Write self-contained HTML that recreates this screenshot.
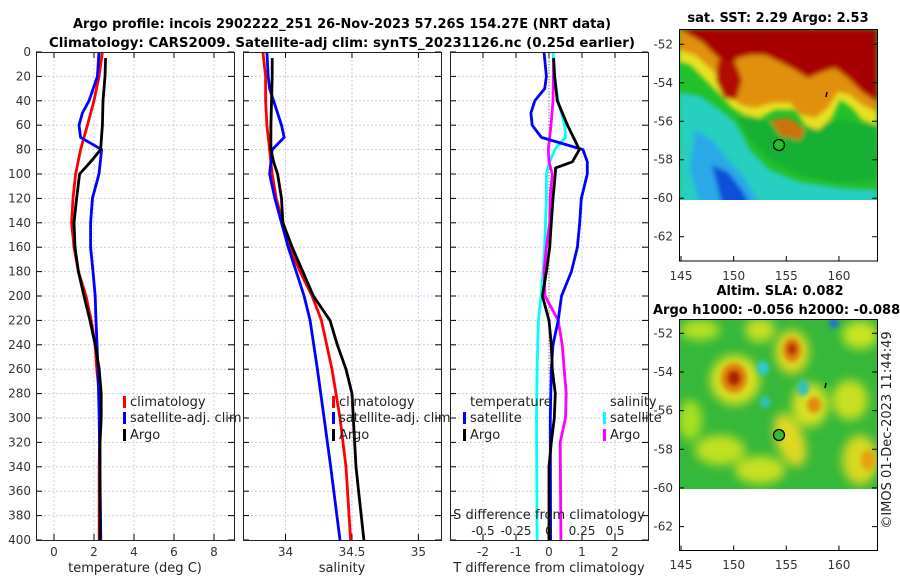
<!DOCTYPE html>
<html><head><meta charset="utf-8"><style>
html,body{margin:0;padding:0;background:#fff;}
svg{display:block;font-family:"DejaVu Sans","Liberation Sans",sans-serif;}
</style></head><body>
<svg id="fig" width="900" height="580" viewBox="0 0 900 580" xmlns="http://www.w3.org/2000/svg">
<defs>
<clipPath id="m1c"><rect x="679" y="29" width="198" height="171"/></clipPath>
<clipPath id="m2c"><rect x="679" y="319" width="198" height="170"/></clipPath>
<filter id="bl" x="-10%" y="-10%" width="120%" height="120%"><feGaussianBlur stdDeviation="2.5"/></filter>
<filter id="bl2" x="-30%" y="-30%" width="160%" height="160%"><feGaussianBlur stdDeviation="5"/></filter>
</defs>
<g id="titles">
<text x="342" y="28" text-anchor="middle" font-size="13" font-weight="bold" textLength="538" lengthAdjust="spacingAndGlyphs">Argo profile: incois 2902222_251 26-Nov-2023 57.26S 154.27E (NRT data)</text>
<text x="342" y="47" text-anchor="middle" font-size="13" font-weight="bold" textLength="586" lengthAdjust="spacingAndGlyphs">Climatology: CARS2009. Satellite-adj clim: synTS_20231126.nc (0.25d earlier)</text>
</g>
<g id="panels"></g>
<g id="maps">
<text x="778" y="22" text-anchor="middle" font-size="13" font-weight="bold">sat. SST: 2.29 Argo: 2.53</text>
<g clip-path="url(#m1c)">
<rect x="679" y="29" width="198" height="171" fill="#22c02a"/>
<g filter="url(#bl)">
<polygon fill="#25cfc0" points="679,92 700,96 718,108 735,122 750,150 770,170 800,182 840,188 877,190 877,205 679,205"/>
<polygon fill="#2aa8e8" points="695,130 712,140 728,160 745,178 760,205 700,205 690,170"/>
<polygon fill="#1050d8" points="712,165 728,172 742,190 750,205 722,205"/>
<polygon fill="#18b030" points="735,115 760,118 785,128 810,125 840,120 877,125 877,180 840,183 800,175 770,160 750,140"/>
<polygon fill="#e8e020" points="679,29 877,29 877,125 862,120 852,108 840,100 832,118 818,130 805,125 795,110 775,110 760,118 745,115 732,108 720,95 705,80 690,65 679,62"/>
<polygon fill="#e09010" points="679,29 877,29 877,112 862,105 850,95 838,92 828,108 815,118 800,115 790,103 772,103 755,108 740,105 728,90 712,70 695,55 679,50"/>
<polygon fill="#a80000" points="679,29 877,29 877,102 862,92 848,78 835,68 822,72 808,78 795,70 780,62 765,55 750,55 738,58 728,66 716,56 702,42 688,34"/>
<polygon fill="#b01000" points="718,60 735,62 742,80 736,100 724,98 716,80"/>
<polygon fill="#d07010" points="770,120 790,118 805,130 800,140 780,135"/>
</g>
</g>
<ellipse cx="779" cy="145" rx="5.5" ry="5.5" fill="#22c02a" stroke="#000" stroke-width="1.3"/>
<line x1="827" y1="92" x2="826" y2="97" stroke="#000" stroke-width="1.5"/>
<rect x="679.5" y="29.5" width="198" height="231.5" fill="none" stroke="#000" stroke-width="1"/>
<g id="m1ticks" font-size="12" fill="#333"></g>
<text x="780" y="295" text-anchor="middle" font-size="13" font-weight="bold">Altim. SLA: 0.082</text>
<text x="653" y="314" font-size="13" font-weight="bold">Argo h1000: -0.056 h2000: -0.088</text>
<g clip-path="url(#m2c)">
<rect x="679" y="319" width="198" height="170" fill="#36b83a"/>
<g filter="url(#bl2)">
<ellipse cx="700" cy="330" rx="20" ry="10" fill="#b8e020"/>
<ellipse cx="760" cy="330" rx="15" ry="12" fill="#c8e020"/>
<ellipse cx="860" cy="335" rx="18" ry="14" fill="#c8e420"/>
<ellipse cx="735" cy="380" rx="25" ry="25" fill="#d8e020"/>
<ellipse cx="792" cy="352" rx="17" ry="22" fill="#e0d820"/>
<ellipse cx="810" cy="405" rx="18" ry="22" fill="#d8e020"/>
<ellipse cx="790" cy="440" rx="14" ry="28" fill="#e0d820" transform="rotate(-20 790 440)"/>
<ellipse cx="720" cy="450" rx="25" ry="15" fill="#c0e020"/>
<ellipse cx="760" cy="470" rx="25" ry="14" fill="#c8e020"/>
<ellipse cx="860" cy="460" rx="18" ry="25" fill="#d8d820"/>
<ellipse cx="850" cy="400" rx="18" ry="20" fill="#c8e020"/>
<ellipse cx="690" cy="420" rx="12" ry="20" fill="#a8e020"/>
</g>
<g filter="url(#bl)">
<ellipse cx="734" cy="378" rx="13" ry="15" fill="#e08010"/>
<ellipse cx="734" cy="378" rx="7" ry="8" fill="#a82000"/>
<ellipse cx="792" cy="350" rx="9" ry="12" fill="#e08010"/>
<ellipse cx="792" cy="349" rx="5" ry="6" fill="#b03000"/>
<ellipse cx="814" cy="405" rx="7" ry="8" fill="#e08a10"/>
<ellipse cx="868" cy="460" rx="7" ry="10" fill="#e8a010"/>
<ellipse cx="763" cy="368" rx="6" ry="7" fill="#30c8d0"/>
<ellipse cx="834" cy="323" rx="5" ry="5" fill="#2070e0"/>
<ellipse cx="765" cy="402" rx="5" ry="6" fill="#30c0c0"/>
<ellipse cx="803" cy="388" rx="6" ry="8" fill="#30c0c0"/>
</g>
</g>
<ellipse cx="779" cy="435" rx="5.5" ry="5.5" fill="#36b83a" stroke="#000" stroke-width="1.3"/>
<line x1="826" y1="383" x2="825" y2="388" stroke="#000" stroke-width="1.5"/>
<rect x="679.5" y="319.5" width="198" height="231" fill="none" stroke="#000" stroke-width="1"/>
<g id="m2ticks" font-size="12" fill="#333"></g>
<text transform="translate(891,430) rotate(-90)" text-anchor="middle" font-size="13" fill="#222">©IMOS 01-Dec-2023 11:44:49</text>
</g>
</svg>
<script>
const tClimDepth=[0,20,40,60,80,100,120,140,160,180,200,220,240,260,280,300,340,400];
const tClimVal=[2.42,2.25,2.0,1.67,1.33,1.08,0.95,0.88,1.0,1.22,1.6,1.86,2.06,2.14,2.26,2.3,2.26,2.26];
const tArgoDepth=[5,20,40,60,80,90,100,120,140,160,180,200,220,240,260,280,300,320,400];
const tArgoVal=[2.58,2.55,2.45,2.42,2.33,1.83,1.28,1.13,1.0,1.05,1.22,1.5,1.8,2.06,2.26,2.36,2.36,2.3,2.3];
const tSatDepth=[0,20,40,50,60,70,80,100,120,140,160,180,200,220,260,300,400];
const tSatVal=[2.25,2.17,1.75,1.42,1.25,1.33,2.38,2.25,1.92,1.83,1.83,1.95,2.06,2.1,2.2,2.26,2.34];
const sClimDepth=[0,20,40,60,80,100,120,140,160,180,200,220,260,280,300,340,400];
const sClimVal=[33.83,33.85,33.85,33.86,33.88,33.9,33.93,33.98,34.03,34.11,34.2,34.27,34.35,34.38,34.41,34.455,34.49];
const sArgoDepth=[5,20,60,80,90,100,120,140,160,180,200,220,240,260,280,300,340,360,400];
const sArgoVal=[33.9,33.9,33.89,33.89,33.91,33.94,33.97,33.98,34.05,34.13,34.21,34.335,34.39,34.455,34.5,34.51,34.53,34.55,34.59];
const sSatDepth=[0,20,30,40,60,70,80,100,120,140,160,180,200,220,260,300,340,400];
const sSatVal=[33.86,33.87,33.88,33.91,33.97,33.99,33.9,33.88,33.92,33.97,34.02,34.08,34.14,34.185,34.24,34.29,34.34,34.41];
const dTSatDepth=[0,20,30,40,50,60,70,80,90,100,120,140,160,180,200,220,240,260,300,400];
const dTSatVal=[-0.15,-0.08,-0.13,-0.43,-0.55,-0.51,-0.23,1.03,1.16,1.16,0.98,0.93,0.86,0.68,0.38,0.28,0.12,0.07,0.04,0.05];
const dTArgoDepth=[5,20,40,60,80,90,95,100,120,140,160,180,200,220,240,260,280,300,320,340,400];
const dTArgoVal=[0.14,0.17,0.25,0.56,0.92,0.71,0.2,0.19,0.12,0.07,0.02,-0.08,-0.2,0,0.07,0.1,0.19,0.16,0.07,0,0];
const dSSatDepth=[0,20,40,60,70,80,90,100,120,160,180,200,220,260,300,400];
const dSSatVal=[0.03,0.043,0.068,0.12,0.125,0.043,0.005,-0.02,-0.02,-0.033,-0.045,-0.06,-0.08,-0.09,-0.095,-0.09];
const dSArgoDepth=[5,40,60,80,90,100,120,140,160,180,200,220,240,260,280,300,320,400];
const dSArgoVal=[0.035,0.03,0.015,-0.005,0,0.025,0.008,0.005,-0.02,-0.038,-0.03,0.07,0.1,0.115,0.13,0.125,0.085,0.09];
const depthTicks=[0,20,40,60,80,100,120,140,160,180,200,220,240,260,280,300,320,340,360,380,400];
const tTicks=[0,2,4,6,8];
const sTicks=[34,34.5,35];
const dTTicks=[-2,-1,0,1,2];
const dSTicks=[-0.5,-0.25,0,0.25,0.5];
const dSTickLabels=["-0.5","-0.25","0","0.25","0.5"];
const latTicks=[-52,-54,-56,-58,-60,-62];
const lonTicks=[145,150,155,160];

const NS="http://www.w3.org/2000/svg";
const fig=document.getElementById('panels');
function el(tag,attrs,parent){const e=document.createElementNS(NS,tag);for(const k in attrs)e.setAttribute(k,attrs[k]);(parent||fig).appendChild(e);return e;}
const Y0=52,Y1=540,DMAX=400;
function yD(d){return Y0+d/DMAX*(Y1-Y0);}
function mkX(x0,x1,v0,v1){return v=>x0+(v-v0)/(v1-v0)*(x1-x0);}

const panels=[
 {x0:36,x1:234,v0:-0.9,v1:9.0,ticks:tTicks,labels:tTicks.map(String),title:'temperature (deg C)',name:'temperature-panel'},
 {x0:243,x1:441,v0:33.68,v1:35.17,ticks:sTicks,labels:["34","34.5","35"],title:'salinity',name:'salinity-panel'},
 {x0:450,x1:648,v0:-3,v1:3,ticks:dTTicks,labels:dTTicks.map(String),title:'T difference from climatology',name:'difference-panel'}
];
panels.forEach((p,i)=>{
  const g=el('g',{});
  
  
  p.fx=mkX(p.x0,p.x1,p.v0,p.v1);p.g=g;
  p.ticks.forEach(t=>{const x=p.fx(t);
    const gl=el('line',{x1:x,x2:x,y1:Y0,y2:Y1,stroke:'#c8cce8','stroke-width':1,'stroke-dasharray':'2,2'},g);
    
    el('line',{x1:x,x2:x,y1:Y1,y2:Y1-6,stroke:'#000'},g);el('line',{x1:x,x2:x,y1:Y0,y2:Y0+6,stroke:'#000'},g);
  });
  p.ticks.forEach((t,k)=>{const tx=el('text',{x:p.fx(t),y:556,'text-anchor':'middle','font-size':12,fill:'#333'},g);tx.textContent=p.labels[k];
    });
  depthTicks.forEach(d=>{const y=yD(d);
    if(d>0&&d<DMAX){const gl=el('line',{x1:p.x0,x2:p.x1,y1:y,y2:y,stroke:'#c8cce8','stroke-width':1,'stroke-dasharray':'2,2'},g);
      }
    el('line',{x1:p.x0,x2:p.x0+6,y1:y,y2:y,stroke:'#000'},g);el('line',{x1:p.x1,x2:p.x1-6,y1:y,y2:y,stroke:'#000'},g);
    if(i===0){const tx=el('text',{x:31,y:y+4,'text-anchor':'end','font-size':12,fill:'#333'},g);tx.textContent=d;
      }
  });
  const at=el('text',{x:(p.x0+p.x1)/2,y:572,'text-anchor':'middle','font-size':13,fill:'#222'},g);at.textContent=p.title;
  
});
function line(p,depths,vals,color,name,scale){
  const pts=depths.map((d,k)=>p.fx(vals[k]*(scale||1)).toFixed(1)+','+yD(d).toFixed(1)).join(' ');
  const l=el('polyline',{points:pts,fill:'none',stroke:color,'stroke-width':2.8,'stroke-linejoin':'round'},p.g);
  
  
}
const [pT,pS,pD]=panels;
line(pT,tClimDepth,tClimVal,'#ff0000','temp-climatology-line');
line(pT,tSatDepth,tSatVal,'#0000ff','temp-satellite-line');
line(pT,tArgoDepth,tArgoVal,'#000000','temp-argo-line');
line(pS,sClimDepth,sClimVal,'#ff0000','sal-climatology-line');
line(pS,sSatDepth,sSatVal,'#0000ff','sal-satellite-line');
line(pS,sArgoDepth,sArgoVal,'#000000','sal-argo-line');
const zl=el('line',{x1:pD.fx(0),x2:pD.fx(0),y1:yD(5),y2:yD(265),stroke:'#806040','stroke-width':1,'stroke-dasharray':'1,2'},pD.g);

line(pD,dSSatDepth,dSSatVal,'#00ffff','sal-diff-satellite-line',4);
line(pD,dSArgoDepth,dSArgoVal,'#ff00ff','sal-diff-argo-line',4);
line(pD,dTSatDepth,dTSatVal,'#0000ff','temp-diff-satellite-line');
line(pD,dTArgoDepth,dTArgoVal,'#000000','temp-diff-argo-line');
const sl=el('text',{x:549,y:519,'text-anchor':'middle','font-size':13,fill:'#222'},pD.g);sl.textContent='S difference from climatology';

dSTicks.forEach((t,k)=>{const tx=el('text',{x:pD.fx(t*4),y:535,'text-anchor':'middle','font-size':12,fill:'#222'},pD.g);tx.textContent=dSTickLabels[k];
  });
panels.forEach(p=>{const r=el('rect',{x:p.x0+0.5,y:Y0+0.5,width:p.x1-p.x0,height:Y1-Y0,fill:'none',stroke:'#222','stroke-width':1},p.g);
  });
function legend(g,x,y,color,label){
  if(color){const b=el('rect',{x:x-7,y:y-10,width:3,height:12,fill:color},g);}
  const t=el('text',{x:x,y:y,'font-size':13,fill:'#222'},g);t.textContent=label;
  
}
legend(pT.g,130,406,'#ff0000','climatology');legend(pT.g,130,422,'#0000ff','satellite-adj. clim');legend(pT.g,130,439,'#000','Argo');
legend(pS.g,339,406,'#ff0000','climatology');legend(pS.g,339,422,'#0000ff','satellite-adj. clim');legend(pS.g,339,439,'#000','Argo');
legend(pD.g,470,406,null,'temperature');legend(pD.g,470,422,'#0000ff','satellite');legend(pD.g,470,439,'#000','Argo');
legend(pD.g,610,406,null,'salinity');legend(pD.g,610,422,'#00ffff','satellite');legend(pD.g,610,439,'#ff00ff','Argo');
function mapTicks(gid,latY0,latScale,yBottom,lonLabelY){
  const g=document.getElementById(gid);
  latTicks.forEach(v=>{const y=latY0+(-52-v)*latScale;
    el('line',{x1:679,x2:684,y1:y,y2:y,stroke:'#000'},g);el('line',{x1:877,x2:872,y1:y,y2:y,stroke:'#000'},g);
    const t=el('text',{x:673,y:y+4,'text-anchor':'end'},g);t.textContent=v;
    });
  lonTicks.forEach(v=>{const x=681+(v-145)*10.53;
    el('line',{x1:x,x2:x,y1:yBottom,y2:yBottom-5,stroke:'#000'},g);
    const t=el('text',{x:x,y:lonLabelY,'text-anchor':'middle'},g);t.textContent=v;
    });
}
mapTicks('m1ticks',44.3,19.24,261,280);
mapTicks('m2ticks',333.3,19.33,550.5,569);
</script>
</body></html>
